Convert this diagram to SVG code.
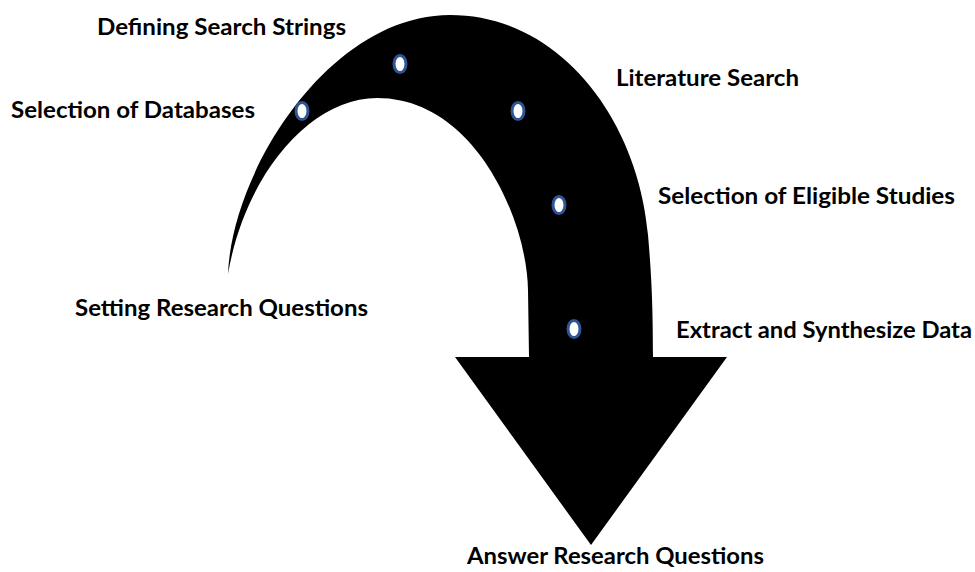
<svg xmlns="http://www.w3.org/2000/svg" width="975" height="572" viewBox="0 0 975 572">
  <style>
    .lbl { font-family: Lato, "Liberation Sans", sans-serif; font-weight: 700; font-size: 22px; fill: #000; }
    .dot { fill: #fff; stroke: #2F5597; stroke-width: 3; }
  </style>
  <rect width="975" height="572" fill="#fff"/>
  <g id="connectors">
    <path id="curved-arrow" fill="#000" d="M228,274 C232,170 330,15 450,15 C560,15 638,120 648,235 C651,270 653,300 653,357 L727,357 L591,545 L455,357 L529,357 L528,290 C527,220 475,98 377,98 C310,98 245,175 228,274 Z"/>
  </g>
  <g id="node-setting">
    <text class="lbl" x="75" y="316" textLength="293" lengthAdjust="spacingAndGlyphs">Setting Research Questions</text>
  </g>
  <g id="node-databases">
    <ellipse class="dot" cx="302" cy="111" rx="6" ry="8.5"/>
    <text class="lbl" x="11" y="118" textLength="244" lengthAdjust="spacingAndGlyphs">Selection of Databases</text>
  </g>
  <g id="node-strings">
    <ellipse class="dot" cx="400" cy="64" rx="6" ry="8.5"/>
    <text class="lbl" x="97" y="35" textLength="249" lengthAdjust="spacingAndGlyphs">Defining Search Strings</text>
  </g>
  <g id="node-literature">
    <ellipse class="dot" cx="518" cy="111" rx="6" ry="8.5"/>
    <text class="lbl" x="616" y="86" textLength="183" lengthAdjust="spacingAndGlyphs">Literature Search</text>
  </g>
  <g id="node-eligible">
    <ellipse class="dot" cx="559" cy="205" rx="6" ry="8.5"/>
    <text class="lbl" x="658" y="204" textLength="297" lengthAdjust="spacingAndGlyphs">Selection of Eligible Studies</text>
  </g>
  <g id="node-extract">
    <ellipse class="dot" cx="574" cy="329" rx="6" ry="8.5"/>
    <text class="lbl" x="676" y="338" textLength="296" lengthAdjust="spacingAndGlyphs">Extract and Synthesize Data</text>
  </g>
  <g id="node-answer">
    <text class="lbl" x="467" y="564" textLength="297" lengthAdjust="spacingAndGlyphs">Answer Research Questions</text>
  </g>
</svg>
